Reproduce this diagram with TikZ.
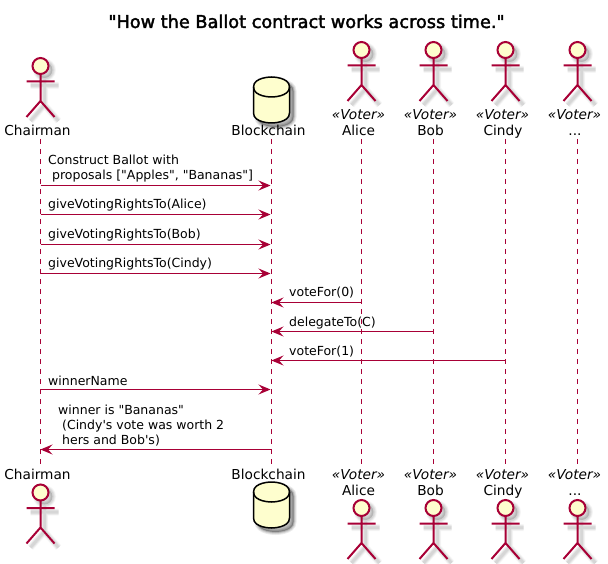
\documentclass[tikz,border=0pt]{standalone}
\usepackage{fontspec}
\newfontfamily\umlfont{DejaVu Sans}
\newfontfamily\umltitle[FakeBold=2.2]{DejaVu Sans}
\usetikzlibrary{arrows.meta}
\definecolor{umlred}{HTML}{A80036}
\definecolor{umlfill}{HTML}{FEFECE}
\tikzset{
  x=1pt,y=-1pt,
  lifeline/.style={draw=umlred,line width=1pt,dash pattern=on 5pt off 5pt},
  msg/.style={draw=umlred,line width=1pt,-{Stealth[length=12pt,width=10pt,inset=4.5pt,color=umlred]}},
  msgright/.style={msg,shorten >=1pt},
  msgleft/.style={msg},
  msgtext/.style={font=\umlfont\fontsize{12.5}{15}\selectfont,anchor=base west,inner sep=0pt,align=left,text=black},
  partname/.style={font=\umlfont\fontsize{13.7}{16}\selectfont,anchor=base,inner sep=0pt,text=black},
  stereo/.style={font=\umlfont\fontsize{13.7}{16}\selectfont\itshape,anchor=base,inner sep=0pt,text=black},
  titletext/.style={font=\umltitle\fontsize{17.7}{20}\selectfont,anchor=base,inner sep=0pt,text=black},
  actorline/.style={draw=umlred,line width=2pt,fill=umlfill},
}
\newcommand{\actorfig}[2]{%
  \begin{scope}[shift={(#1,#2)}]
    \foreach \w/\o in {7/.03,5.5/.04,4/.05,2.5/.05}{
      \draw[line width=\w pt,draw=black,opacity=\o,fill=none]
        (4,4) circle[radius=8]
        (4,12) -- (4,39) (-10,19.5) -- (18,19.5)
        (-10,55) -- (4,39) -- (18,55);
    }
    \fill[black,opacity=.15] (4,4) circle[radius=8];
    \draw[actorline] (0,0) circle[radius=8];
    \draw[actorline,fill=none] (0,8) -- (0,35) (-14,15.5) -- (14,15.5)
      (-14,51) -- (0,35) -- (14,51);
  \end{scope}}
\newcommand{\dbfig}[2]{%
  \begin{scope}[shift={(#1,#2)}]
    \foreach \w/\o in {6/.08,4/.10,2/.16}{
      \draw[line width=\w pt,draw=black,opacity=\o,fill=black,fill opacity=.1]
        (-14,14) .. controls (-14,4) and (4,4) .. (4,4) .. controls (4,4) and (22,4) .. (22,14) -- (22,40)
        .. controls (22,50) and (4,50) .. (4,50) .. controls (4,50) and (-14,50) .. (-14,40) -- cycle;
    }
    \draw[line width=1.5pt,draw=black,fill=umlfill]
      (-18,10) .. controls (-18,0) and (0,0) .. (0,0) .. controls (0,0) and (18,0) .. (18,10) -- (18,36)
      .. controls (18,46) and (0,46) .. (0,46) .. controls (0,46) and (-18,46) .. (-18,36) -- cycle;
    \draw[line width=1.5pt,draw=black]
      (-18,10) .. controls (-18,20) and (0,20) .. (0,20) .. controls (0,20) and (18,20) .. (18,10);
  \end{scope}}
\begin{document}
\begin{tikzpicture}
\useasboundingbox (0,0) rectangle (608,564);
\node[titletext] (title) at (306.5,28) {"How the Ballot contract works across time."};
% lifeline ends
\foreach \n/\x in {c/40.5,b/271.5,a/361.5,o/433.5,y/505.5,d/577.5}{
  \coordinate (lt\n) at (\x,139);
  \coordinate (lb\n) at (\x,465);
}
\foreach \n in {c,b,a,o,y,d}{\draw[lifeline] (lt\n) -- (lb\n);}
% figures
\actorfig{40.5}{66}
\actorfig{40.5}{492.5}
\dbfig{271.5}{77}
\dbfig{271.5}{482}
\foreach \x in {361.5,433.5,505.5,577.5}{
  \actorfig{\x}{50}
  \actorfig{\x}{508}
}
% names
\node[partname] (ctop) at (37.5,136) {Chairman};
\node[partname] (btop) at (268.5,136) {Blockchain};
\node[partname] (atop) at (358.5,136) {Alice};
\node[partname] (otop) at (430.5,136) {Bob};
\node[partname] (ytop) at (503,136) {Cindy};
\node[partname] (dtop) at (575,136) {...};
\node[partname] (cbot) at (37.5,479) {Chairman};
\node[partname] (bbot) at (268.5,479) {Blockchain};
\node[partname] (abot) at (358.5,495) {Alice};
\node[partname] (obot) at (430.5,495) {Bob};
\node[partname] (ybot) at (503,495) {Cindy};
\node[partname] (dbot) at (575,495) {...};
\foreach \n/\x in {a/358.5,o/430.5,y/502.5,d/574.5}{
  \node[stereo] (st\n) at (\x,120) {«Voter»};
  \node[stereo] (sb\n) at (\x,479) {«Voter»};
}
% messages
\foreach \i/\s/\t/\y/\k in {1/c/b/185.5/msgright,2/c/b/214.5/msgright,3/c/b/244.5/msgright,4/c/b/273.5/msgright,5/a/b/302.5/msgleft,6/o/b/331.5/msgleft,7/y/b/360.5/msgleft,8/c/b/389.5/msgright,9/b/c/449.5/msgleft}{
  \coordinate (ms\i) at (lt\s |- 0,\y);
  \coordinate (mt\i) at (lt\t |- 0,\y);
  \draw[\k] (ms\i) -- (mt\i);
}
\node[msgtext] (t1) at (48,165) {Construct Ballot with};
\node[msgtext] (t1b) at (48,180) {\ proposals ["Apples", "Bananas"]};
\node[msgtext] (t2) at (48,209) {giveVotingRightsTo(Alice)};
\node[msgtext] (t3) at (48,238.5) {giveVotingRightsTo(Bob)};
\node[msgtext] (t4) at (48,268) {giveVotingRightsTo(Cindy)};
\node[msgtext] (t5) at (289,297) {voteFor(0)};
\node[msgtext] (t6) at (289,326) {delegateTo(C)};
\node[msgtext] (t7) at (289,355.5) {voteFor(1)};
\node[msgtext] (t8) at (48,385) {winnerName};
\node[msgtext] (t9) at (58,414) {winner is "Bananas"};
\node[msgtext] (t9b) at (58,429) {\ (Cindy's vote was worth 2};
\node[msgtext] (t9c) at (58,444) {\ hers and Bob's)};
\end{tikzpicture}
\end{document}
